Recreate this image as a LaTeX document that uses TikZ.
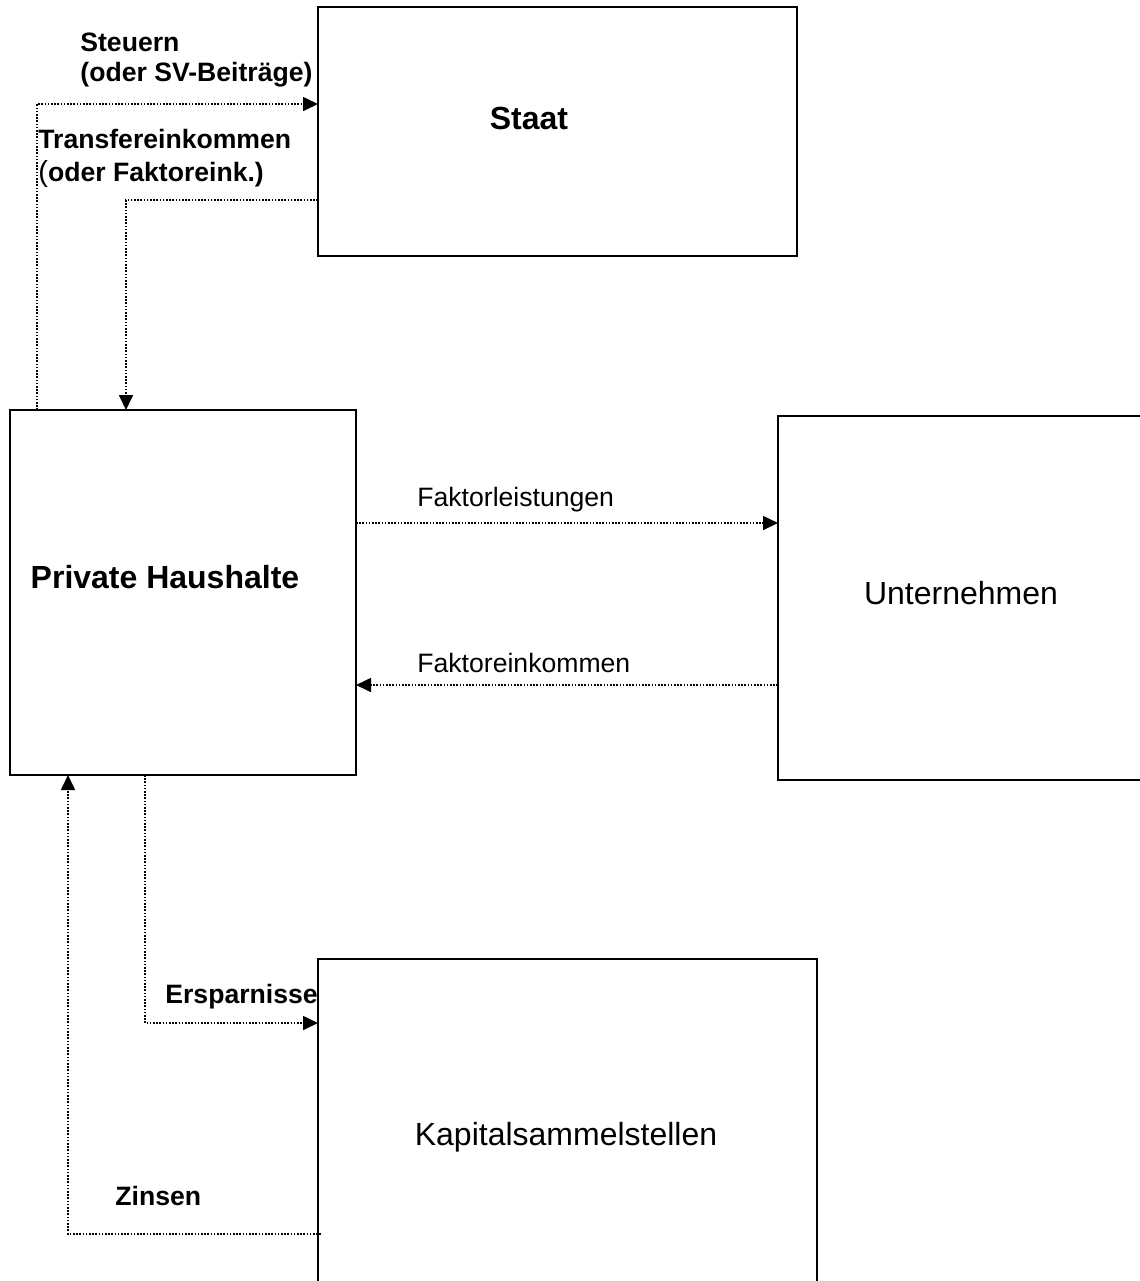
\documentclass[tikz,border=0pt]{standalone}
\usepackage{fontspec}
\setmainfont{Liberation Sans}
\usetikzlibrary{arrows.meta,calc,fit}
\begin{document}
\begin{tikzpicture}[x=0.5pt,y=-0.5pt,
  box/.style={draw=black,line width=1.1pt,inner sep=0pt,outer sep=0pt},
  bigb/.style={inner sep=0pt,font=\fontsize{16}{19}\selectfont\bfseries},
  bigr/.style={inner sep=0pt,font=\fontsize{16}{19}\selectfont},
  smallb/.style={inner sep=0pt,anchor=west,align=left,font=\fontsize{13.3}{15}\selectfont\bfseries},
  smallr/.style={inner sep=0pt,anchor=west,font=\fontsize{13.3}{15}\selectfont},
  flow/.style={line width=0.85pt,dash pattern=on 0.8pt off 0.8pt,-{Triangle[length=7.5pt,width=7pt]}}]
\useasboundingbox (0,0) rectangle (1140,1281);
% boxes
\node[box,fit={(318,7) (797,256)}] (staat) {};
\node[box,fit={(10,410) (356,775)}] (ph) {};
\node[box,fit={(778,416) (1170,780)}] (unt) {};
\node[box,fit={(318,959) (817,1320)}] (kap) {};
% box texts
\node[bigb] (staatT) at (529,118) {Staat};
\node[bigb] (phT) at (165,577) {Private Haushalte};
\node[bigr] (untT) at (961,593) {Unternehmen};
\node[bigr] (kapT) at (566,1137) {Kapitalsammelstellen};
% connector coordinates
\coordinate (st) at ($(ph.north west)+(27,0)$);
\coordinate (stE) at ($(staat.north west)+(0,97)$);
\coordinate (tr) at ($(staat.north west)+(0,193)$);
\coordinate (trE) at ($(ph.north west)+(116,0)$);
\coordinate (fl) at ($(ph.north east)+(0,113)$);
\coordinate (fe) at ($(unt.north west)+(0,269)$);
\coordinate (es) at ($(ph.south west)+(135,0)$);
\coordinate (esE) at ($(kap.north west)+(0,64)$);
\coordinate (zi) at ($(kap.north west)+(3,275)$);
\coordinate (ziE) at ($(ph.south west)+(58,0)$);
% connectors
\draw[flow] (st) |- (stE);
\draw[flow] (tr) -| (trE);
\draw[flow] (fl) -- (fl -| unt.west);
\draw[flow] (fe) -- (fe -| ph.east);
\draw[flow] (es) |- (esE);
\draw[flow] (zi) -| (ziE);
% labels
\node[smallb] (lSt) at (80,60) {Steuern\\(oder SV-Beiträge)};
\node[smallb,font=\fontsize{13.3}{16.5}\selectfont\bfseries] (lTr) at (38,158) {Transfereinkommen\\{\mdseries\fontsize{14.5}{16.5}\selectfont(}oder Faktoreink.)};
\node[smallr] (lFl) at (417,500) {Faktorleistungen};
\node[smallr] (lFe) at (417,663) {Faktoreinkommen};
\node[smallb] (lEs) at (165,997) {Ersparnisse};
\node[smallb] (lZi) at (115,1196) {Zinsen};
\end{tikzpicture}
\end{document}
